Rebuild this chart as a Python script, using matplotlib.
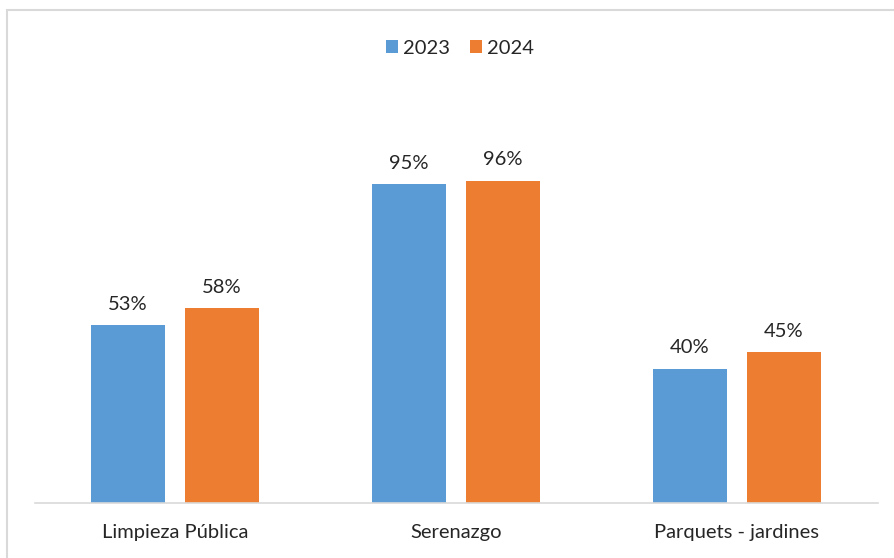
import numpy as np
import matplotlib.pyplot as plt
from matplotlib.patches import Rectangle

categorias = ['Limpieza Pública', 'Serenazgo', 'Parquets - jardines']
anios = ['2023', '2024']
v2023 = [53, 95, 40]
v2024 = [58, 96, 45]

azul = '#5B9BD5'
naranja = '#ED7D31'
texto = '#262626'
fs = 14.5

plt.rcParams['font.family'] = ['Lato', 'DejaVu Sans']

fig = plt.figure(figsize=(8.94, 5.58), dpi=100)
# marco gris del grafico
fig.patches.append(Rectangle((7 / 894, -0.1), 1.2, (558 - 10) / 558 + 0.1,
                             transform=fig.transFigure, fill=False,
                             edgecolor='#d9d9d9', linewidth=1.5))

ax = fig.add_axes([34.5 / 894, 55 / 558, 843 / 894, 403 / 558])
x = np.arange(len(categorias))
ancho = 0.263
desp = 0.167
b1 = ax.bar(x - desp, v2023, ancho, color=azul, label=anios[0])
b2 = ax.bar(x + desp, v2024, ancho, color=naranja, label=anios[1])

for barras in (b1, b2):
    for b in barras:
        h = b.get_height()
        ax.annotate(f'{h:.0f}%', (b.get_x() + b.get_width() / 2, h),
                    xytext=(0, 11), textcoords='offset points',
                    ha='center', va='baseline', fontsize=fs, color=texto)

ax.set_xlim(-0.5, 2.5)
ax.set_ylim(0, 120)
ax.set_xticks(x)
ax.set_xticklabels(categorias, fontsize=fs, color=texto)
ax.tick_params(axis='x', length=0, pad=15)
ax.set_yticks([])
for s in ['top', 'right', 'left']:
    ax.spines[s].set_visible(False)
ax.spines['bottom'].set_color('#d9d9d9')
ax.spines['bottom'].set_linewidth(1.2)

fig.legend(loc='center', bbox_to_anchor=(460 / 894, 1 - 48 / 558), ncol=2,
           frameon=False, fontsize=fs, handlelength=0.6, handleheight=0.6,
           handletextpad=0.25, columnspacing=0.95, labelcolor=texto)

fig.savefig('out.png', dpi=100)
